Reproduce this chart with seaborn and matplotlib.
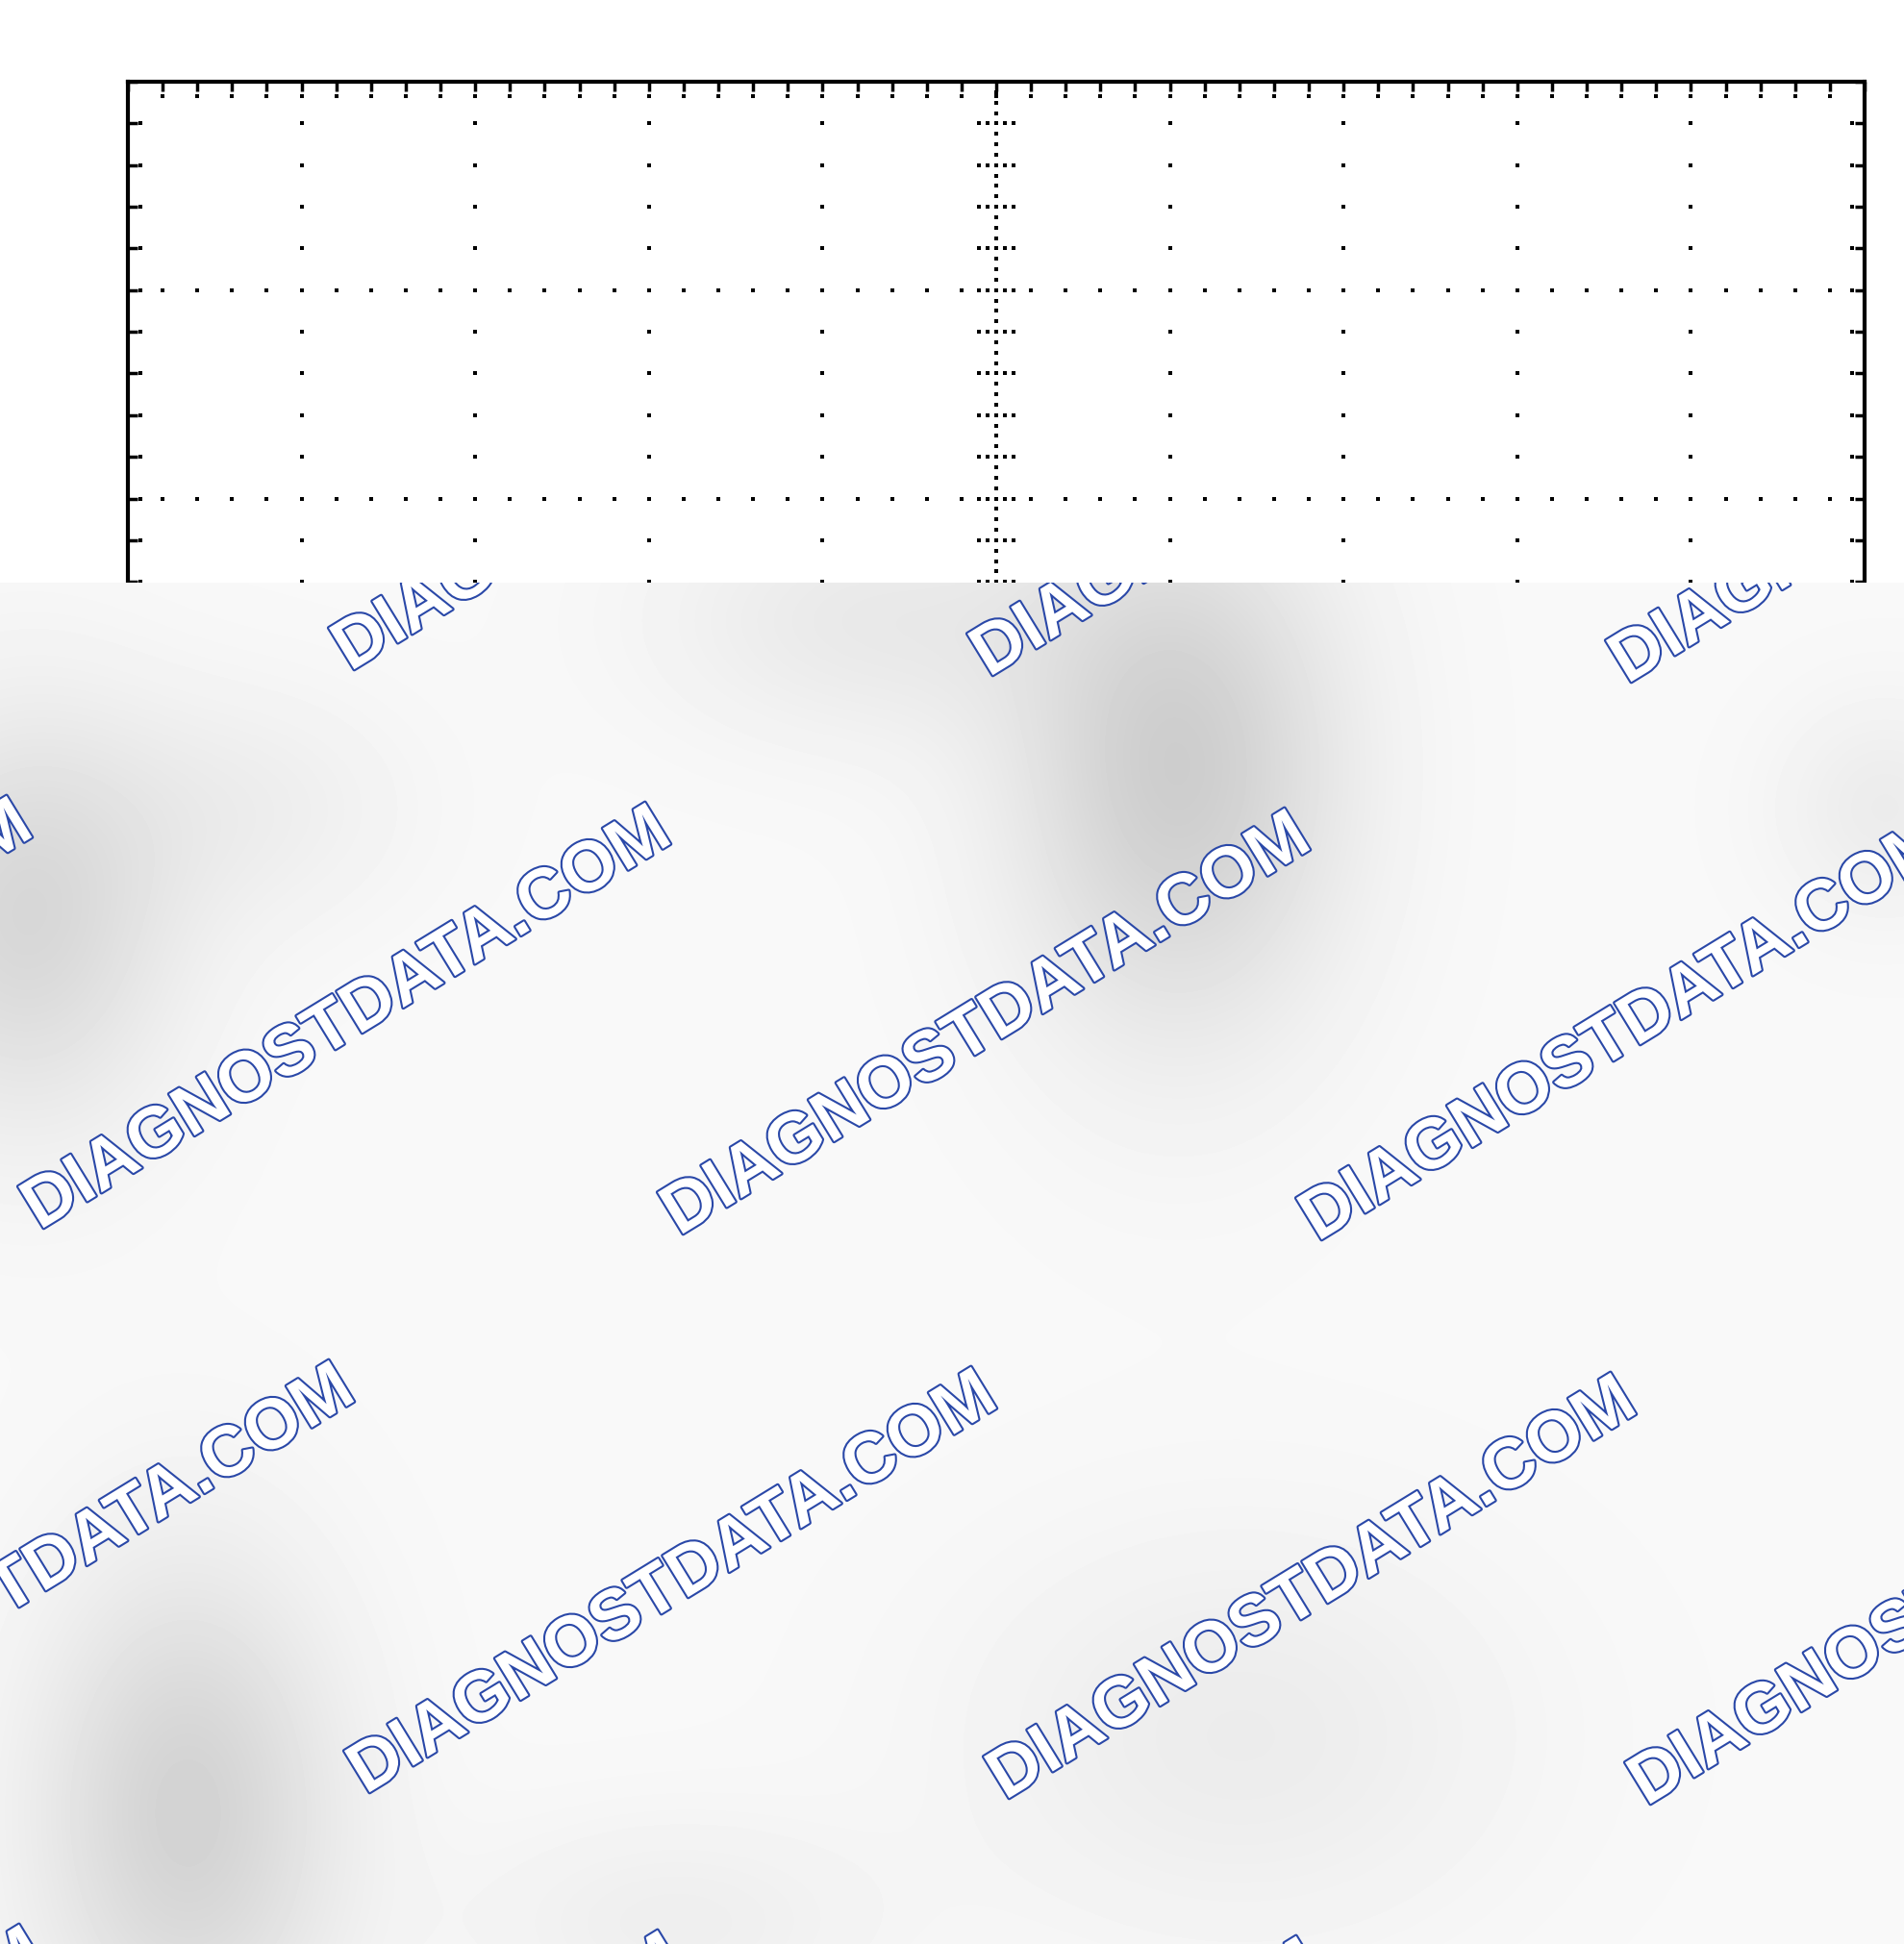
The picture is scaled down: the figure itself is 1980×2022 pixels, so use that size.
import numpy as np
import matplotlib
matplotlib.use("Agg")
import matplotlib.pyplot as plt
import matplotlib.patheffects as pe
import seaborn as sns
import pandas as pd

sns.set_theme(style="white")
plt.rcParams['font.family'] = ['Liberation Sans', 'DejaVu Sans']

# graticule: 10 x 8 divisions, 5 minor steps per division
x_major = [0, 1, 2, 3, 4, 5, 6, 7, 8, 9, 10]
y_major = [-4, -3, -2, -1, 0, 1, 2, 3, 4]
minor_step = 0.2
center_step = 0.05

# watermark centres in figure pixels (origin top-left)
wm_x = [19, 684, 1348, 2012,
        -303, 361, 1026, 1690,
        32, 700, 1365, 2032,
        -290, 374, 1038, 1703]
wm_y = [473, 480, 486, 493,
        1054, 1061, 1067, 1073,
        1641, 1648, 1654, 1660,
        2228, 2234, 2240, 2247]
wm_text = "DIAGNOSTDATA.COM"

# soft grey smudges on the lower panel: x, y (px), spread x, spread y, depth
blob_x = [1225, 26, 195, 900, 1290, 1960, 260, 700]
blob_y = [800, 955, 1885, 645, 1805, 840, 840, 2000]
blob_sx = [120, 110, 110, 150, 200, 80, 120, 150]
blob_sy = [190, 150, 180, 90, 150, 80, 90, 80]
blob_depth = [0.17, 0.13, 0.15, 0.06, 0.05, 0.05, 0.04, 0.04]

W, H = 1980, 2022
fig = plt.figure(figsize=(W / 100, H / 100), dpi=100)
fig.patch.set_facecolor("white")

# --- scope graticule ---
ax = fig.add_axes([133 / W, 1 - 1819 / H, (1939 - 133) / W, (1819 - 85) / H])
rows = []
ys_minor = np.round(np.arange(-4, 4 + 1e-9, minor_step), 3)
xs_minor = np.round(np.arange(0, 10 + 1e-9, minor_step), 3)
for xv in x_major[1:-1]:
    for yv in ys_minor[1:-1]:
        rows.append((xv, yv))
for yv in y_major[1:-1]:
    for xv in xs_minor[1:-1]:
        rows.append((xv, yv))
# dense centre lines with cross marks
for yv in np.arange(-4, 4 + 1e-9, center_step):
    rows.append((5, yv))
for xv in np.arange(0, 10 + 1e-9, center_step):
    rows.append((xv, 0))
for yv in ys_minor:
    for dx in (-0.1, -0.05, 0.05, 0.1):
        rows.append((5 + dx, yv))
for xv in xs_minor:
    for dy in (-0.12, -0.06, 0.06, 0.12):
        rows.append((xv, dy))
# second dot row near the borders
for yv in ys_minor[1:-1]:
    rows.append((0.07, yv))
    rows.append((9.93, yv))
for xv in xs_minor[1:-1]:
    rows.append((xv, 3.93))
dots = pd.DataFrame(rows, columns=["x", "y"])
sns.scatterplot(data=dots, x="x", y="y", marker="s", s=9, color="black",
                linewidth=0, ax=ax, legend=False)
ax.set_xlim(0, 10)
ax.set_ylim(-4, 4)
ax.set_xticks(xs_minor)
ax.set_yticks(ys_minor)
ax.set_xticklabels([])
ax.set_yticklabels([])
ax.tick_params(axis="both", direction="in", length=7, width=2.5, color="black",
               top=True, right=True, bottom=True, left=True)
ax.set_xlabel("")
ax.set_ylabel("")
for sp in ax.spines.values():
    sp.set_linewidth(3)
    sp.set_color("black")

# --- grey watermark panel covering the lower part ---
pan = fig.add_axes([0, 0, 1, 1 - 606 / H])
gx, gy = np.meshgrid(np.arange(W), np.arange(606, H))
shade = np.full(gx.shape, 0.975)
for bx, by, sx, sy, d in zip(blob_x, blob_y, blob_sx, blob_sy, blob_depth):
    shade -= d * np.exp(-((gx - bx) ** 2 / (2 * sx ** 2) + (gy - by) ** 2 / (2 * sy ** 2)))
pan.imshow(shade, cmap="gray", vmin=0, vmax=1, extent=(0, W, H, 606),
           aspect="auto", interpolation="bilinear")
pan.set_xlim(0, W)
pan.set_ylim(H, 606)
pan.axis("off")
for tx, ty in zip(wm_x, wm_y):
    pan.text(tx, ty, wm_text, rotation=31.5, rotation_mode="anchor",
             ha="center", va="center", fontsize=53, fontweight="bold",
             color="white", clip_on=True,
             path_effects=[pe.withStroke(linewidth=3, foreground="#2a48a8")])

fig.savefig("out.png", dpi=100)
